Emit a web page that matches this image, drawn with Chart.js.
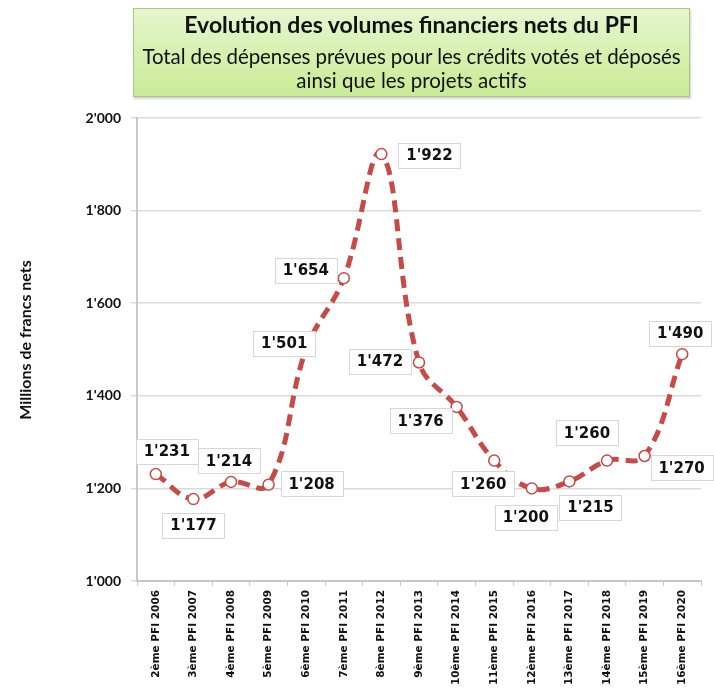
<!DOCTYPE html>
<html>
<head>
<meta charset="utf-8">
<script src="https://cdn.jsdelivr.net/npm/chart.js@4.4.0/dist/chart.umd.min.js"></script>
<style>
html,body{margin:0;padding:0;background:#fff;}
#wrap{position:relative;width:714px;height:691px;}
#c{position:absolute;left:0;top:0;}
#title{position:absolute;left:133px;top:8px;width:555px;height:87px;
  background:linear-gradient(to bottom,#e6f6cf 0%,#d6f0ae 55%,#c9ea96 100%);
  border:1px solid #a9c388;box-shadow:1px 2px 2px rgba(0,0,0,0.18);
  font-family:Lato,"Open Sans",sans-serif;color:#111;text-align:center;white-space:nowrap;}
#t1{position:absolute;left:0;right:0;top:2px;font-size:23px;font-weight:bold;line-height:26px;}
#t2{position:absolute;left:-3px;right:-3px;top:34px;font-size:20.5px;line-height:26px;letter-spacing:-0.1px;}
#t3{position:absolute;left:0;right:0;top:58px;font-size:20.5px;line-height:26px;}
</style>
</head>
<body>
<div id="wrap">
<canvas id="c" width="714" height="691"></canvas>
<div id="title">
  <div id="t1">Evolution des volumes financiers nets du PFI</div>
  <div id="t2">Total des dépenses prévues pour les crédits votés et déposés</div>
  <div id="t3">ainsi que les projets actifs</div>
</div>
</div>
<script>
const categories = ['2ème PFI 2006','3ème PFI 2007','4ème PFI 2008','5ème PFI 2009','6ème PFI 2010','7ème PFI 2011','8ème PFI 2012','9ème PFI 2013','10ème PFI 2014','11ème PFI 2015','12ème PFI 2016','13ème PFI 2017','14ème PFI 2018','15ème PFI 2019','16ème PFI 2020'];
const values = [1231,1177,1214,1208,1501,1654,1922,1472,1376,1260,1200,1215,1260,1270,1490];
const valueLabels = ["1'231","1'177","1'214","1'208","1'501","1'654","1'922","1'472","1'376","1'260","1'200","1'215","1'260","1'270","1'490"];
const yTickValues = [1000,1200,1400,1600,1800,2000];
const yTickLabels = ["1'000","1'200","1'400","1'600","1'800","2'000"];
const yAxisTitle = 'Millions de francs nets';

// label box offsets from their point (style only)
const labelOffsets = [[11,-23],[0,26],[-2,-21],[43,-1],[-22,-6],[-38,-8],[48,1],[-39,-1],[-36,14],[-11,23],[-6,29],[21,26],[-20,-28],[37,12],[-2,-21]];

const labelPlugin = {
  id:'boxLabels',
  afterDatasetsDraw(chart){
    const ctx = chart.ctx;
    const meta = chart.getDatasetMeta(0);
    ctx.save();
    ctx.font = 'bold 15px "DejaVu Sans"';
    ctx.textAlign = 'center';
    ctx.textBaseline = 'middle';
    meta.data.forEach((pt,i)=>{
      const cx = pt.x + labelOffsets[i][0];
      const cy = pt.y + labelOffsets[i][1];
      const txt = valueLabels[i];
      const w = Math.round(ctx.measureText(txt).width + 16);
      const h = 25;
      const x0 = Math.round(cx - w/2)+0.5, y0 = Math.round(cy - h/2)+0.5;
      ctx.fillStyle = '#fff';
      ctx.fillRect(x0, y0, w, h);
      ctx.strokeStyle = '#d6d6d6';
      ctx.lineWidth = 1;
      ctx.strokeRect(x0, y0, w, h);
      ctx.fillStyle = '#111';
      ctx.fillText(txt, cx, cy+1);
    });
    ctx.restore();
  }
};

const yTitlePlugin = {
  id:'yTitle',
  afterDraw(chart){
    const ctx = chart.ctx;
    ctx.save();
    ctx.translate(26, 340);
    ctx.rotate(-Math.PI/2);
    ctx.font = 'bold 16px Lato';
    ctx.fillStyle = '#111';
    ctx.textAlign = 'center';
    ctx.textBaseline = 'middle';
    ctx.fillText(yAxisTitle, 0, 0);
    ctx.restore();
  }
};

new Chart(document.getElementById('c'), {
  type:'line',
  data:{
    labels:categories,
    datasets:[{
      data:values,
      borderColor:'#c64a47',
      borderWidth:5,
      borderDash:[12,7],
      tension:0.4,
      fill:false,
      pointRadius:5.5,
      pointBackgroundColor:'#ffffff',
      pointBorderColor:'#c64a47',
      pointBorderWidth:1.5
    }]
  },
  options:{
    responsive:false,
    animation:false,
    layout:{padding:{top:118,right:13,left:0,bottom:0}},
    plugins:{legend:{display:false},tooltip:{enabled:false},title:{display:false}},
    scales:{
      x:{
        offset:true,
        grid:{offset:true,drawOnChartArea:false,drawTicks:true,tickLength:5,color:'#c8c8c8',lineWidth:1},
        border:{color:'#c8c8c8',width:2},
        ticks:{autoSkip:false,maxRotation:90,minRotation:90,padding:4,color:'#111',
          font:{family:'DejaVu Sans',weight:'bold',size:10.5}},
        afterFit(s){s.height=110;}
      },
      y:{
        min:1000,max:2000,
        afterBuildTicks(s){s.ticks = yTickValues.map(v=>({value:v}));},
        ticks:{padding:10,color:'#111',font:{family:'Lato',weight:'bold',size:14},
          callback:(v)=>{const i=yTickValues.indexOf(v);return i>=0?yTickLabels[i]:'';}},
        grid:{color:'#dadada',lineWidth:1.5,tickLength:6},
        border:{color:'#c8c8c8',width:2},
        afterFit(s){s.width=137;}
      }
    }
  },
  plugins:[labelPlugin,yTitlePlugin]
});
</script>
</body>
</html>
